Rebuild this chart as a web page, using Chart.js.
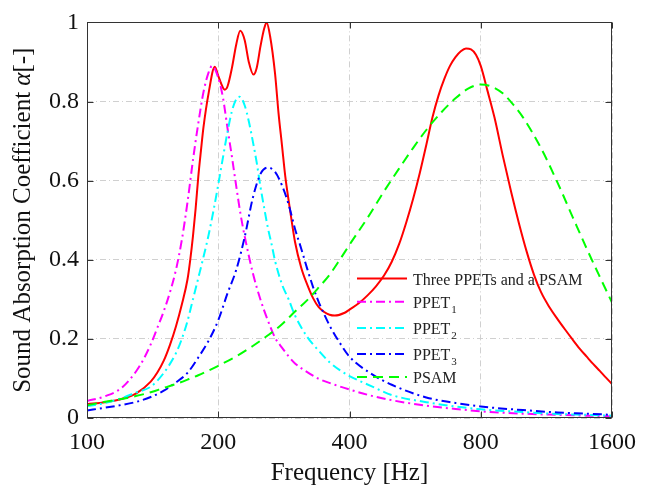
<!DOCTYPE html>
<html><head><meta charset="utf-8">
<script src="https://cdn.jsdelivr.net/npm/chart.js@4.4.1/dist/chart.umd.min.js"></script>
<style>html,body{margin:0;padding:0;background:#fff}canvas{display:block}</style>
</head><body>
<canvas id="c" width="646" height="492"></canvas>
<script>
// ---- data (frequency in Hz, sound absorption coefficient) ----
const xTicks = [100, 200, 400, 800, 1600];
const yTicks = [0, 0.2, 0.4, 0.6, 0.8, 1];
const seriesNames = ['Three PPETs and a PSAM', 'PPET1', 'PPET2', 'PPET3', 'PSAM'];

const redFreq  = [100,110,120,130,140,145,150,155,160,165,170,172.5,175,177.5,180,182.5,185,190,196.4,200,205,207,210,215,220,224.6,230,235,240.8,245,250,255,258.2,263,270,275,280,285,290,295,300,310,320,330,340,350,360,370,390,400,420,440,460,480,500,520,540,560,580,600,620,640,660,680,700,720,740,760,780,800,830,860,900,940,980,1020,1060,1100,1150,1200,1250,1300,1350,1400,1450,1500,1550,1600];
const redAlpha = [0.035,0.040,0.048,0.063,0.092,0.115,0.145,0.185,0.232,0.287,0.35,0.40,0.46,0.53,0.61,0.675,0.735,0.82,0.888,0.865,0.835,0.83,0.838,0.885,0.945,0.979,0.955,0.90,0.868,0.885,0.94,0.985,1.0,0.965,0.87,0.77,0.69,0.61,0.55,0.495,0.445,0.38,0.337,0.303,0.28,0.268,0.261,0.259,0.266,0.274,0.29,0.31,0.333,0.36,0.395,0.44,0.495,0.555,0.62,0.69,0.76,0.815,0.857,0.89,0.912,0.927,0.934,0.932,0.918,0.89,0.825,0.76,0.66,0.57,0.49,0.42,0.362,0.318,0.28,0.25,0.223,0.198,0.175,0.155,0.136,0.119,0.102,0.086];

const magFreq  = [100,110,120,130,135,140,145,150,155,160,165,170,175,180,185,190,193.6,200,205,210,215,220,225,230,240,250,260,270,280,290,300,320,340,370,400,450,500,600,700,800,1000,1200,1400,1600];
const magAlpha = [0.043,0.055,0.076,0.12,0.15,0.186,0.228,0.27,0.318,0.375,0.45,0.545,0.652,0.745,0.824,0.873,0.89,0.86,0.81,0.733,0.66,0.585,0.515,0.459,0.367,0.299,0.246,0.203,0.178,0.156,0.138,0.116,0.099,0.084,0.072,0.056,0.045,0.031,0.023,0.017,0.011,0.008,0.006,0.004];

const cyanFreq  = [100,110,120,130,140,150,160,165,170,175,180,185,190,195,200,205,210,215,220,224,230,235,240,245,250,255,260,265,270,280,290,300,320,340,360,380,400,450,500,600,700,800,1000,1200,1400,1600];
const cyanAlpha = [0.03,0.038,0.05,0.065,0.079,0.114,0.164,0.2,0.245,0.30,0.354,0.407,0.462,0.524,0.59,0.658,0.723,0.776,0.806,0.812,0.79,0.75,0.70,0.646,0.584,0.53,0.48,0.44,0.397,0.338,0.30,0.259,0.205,0.17,0.141,0.121,0.106,0.08,0.058,0.04,0.029,0.022,0.015,0.01,0.008,0.006];

const blueFreq  = [100,110,120,130,140,150,160,170,180,190,200,210,220,230,240,250,260,270,280,290,300,310,320,330,340,350,360,380,400,450,500,600,700,800,1000,1200,1400,1600];
const blueAlpha = [0.019,0.026,0.033,0.041,0.053,0.069,0.09,0.114,0.153,0.195,0.247,0.315,0.375,0.458,0.556,0.617,0.633,0.622,0.588,0.54,0.478,0.428,0.377,0.331,0.293,0.262,0.234,0.19,0.155,0.111,0.084,0.052,0.038,0.029,0.02,0.014,0.011,0.008];

const greenFreq  = [100,110,120,130,140,150,160,170,180,190,200,220,240,260,280,300,320,340,360,380,400,440,480,520,560,600,650,700,750,800,850,900,950,1000,1100,1200,1300,1400,1500,1600];
const greenAlpha = [0.032,0.041,0.048,0.056,0.065,0.076,0.086,0.097,0.108,0.12,0.132,0.156,0.182,0.209,0.237,0.269,0.298,0.33,0.362,0.40,0.438,0.506,0.573,0.631,0.683,0.728,0.773,0.808,0.833,0.843,0.837,0.82,0.792,0.76,0.682,0.595,0.508,0.428,0.357,0.292];

// ---- styling ----
const colors = ['#ff0000', '#ff00ff', '#00ffff', '#0000ff', '#00ff00'];
const dashes = [[], [9,4,2,4], [9,4,2,4], [9,4,2,4], [10,6]];
const serif = '"Liberation Serif", "Times New Roman", serif';

const mk = (f, a) => f.map((x, i) => ({x: x, y: a[i]}));
const allData = [mk(redFreq, redAlpha), mk(magFreq, magAlpha), mk(cyanFreq, cyanAlpha), mk(blueFreq, blueAlpha), mk(greenFreq, greenAlpha)];

const datasets = allData.map((d, i) => ({
  label: seriesNames[i],
  data: d,
  borderColor: colors[i],
  backgroundColor: colors[i],
  borderWidth: 2,
  borderDash: dashes[i],
  pointRadius: 0,
  fill: false,
  cubicInterpolationMode: 'monotone',
  order: 5 - i
}));

const framePlugin = {
  id: 'frame',
  afterDatasetsDraw(chart) {
    const ctx = chart.ctx, a = chart.chartArea;
    const xs = chart.scales.x, ys = chart.scales.y;
    ctx.save();
    ctx.setLineDash([]);
    ctx.strokeStyle = '#333';
    ctx.lineWidth = 1;
    const L = Math.round(a.left) + 0.5, R = Math.round(a.right) - 0.5, T = Math.round(a.top) + 0.5, B = Math.round(a.bottom) - 0.5;
    ctx.strokeRect(L, T, R - L, B - T);
    ctx.beginPath();
    const tl = 6;
    xTicks.forEach(v => {
      const p = Math.round(xs.getPixelForValue(v)) + 0.5;
      ctx.moveTo(p, B); ctx.lineTo(p, B - tl);
      ctx.moveTo(p, T); ctx.lineTo(p, T + tl);
    });
    yTicks.forEach(v => {
      const p = Math.round(ys.getPixelForValue(v)) + 0.5;
      ctx.moveTo(L, p); ctx.lineTo(L + tl, p);
      ctx.moveTo(R, p); ctx.lineTo(R - tl, p);
    });
    ctx.stroke();
    ctx.restore();
  }
};

const legendRows = [278.5, 301.7, 328, 354, 377];
const legendSubs = ['', '1', '2', '3', ''];
const legendMain = ['Three PPETs and a PSAM', 'PPET', 'PPET', 'PPET', 'PSAM'];

const legendPlugin = {
  id: 'customLegend',
  afterDatasetsDraw(chart) {
    const ctx = chart.ctx;
    ctx.save();
    const x0 = 357, x1 = 407, tx = 413;
    legendRows.forEach((y, i) => {
      ctx.strokeStyle = colors[i];
      ctx.lineWidth = 2;
      ctx.setLineDash(dashes[i]);
      ctx.beginPath();
      ctx.moveTo(x0, y); ctx.lineTo(x1, y);
      ctx.stroke();
      ctx.setLineDash([]);
      ctx.fillStyle = '#222';
      ctx.textBaseline = 'alphabetic';
      ctx.textAlign = 'left';
      ctx.font = '16px ' + serif;
      ctx.fillText(legendMain[i], tx, y + 6);
      if (legendSubs[i]) {
        const w = ctx.measureText(legendMain[i]).width;
        ctx.font = '11px ' + serif;
        ctx.fillText(legendSubs[i], tx + w + 1, y + 11);
      }
    });
    ctx.restore();
  }
};

const titlePlugin = {
  id: 'axisTitles',
  afterDraw(chart) {
    const ctx = chart.ctx, a = chart.chartArea;
    ctx.save();
    ctx.fillStyle = '#111';
    ctx.textBaseline = 'middle';
    ctx.textAlign = 'center';
    ctx.font = '25px ' + serif;
    ctx.fillText('Frequency [Hz]', (a.left + a.right) / 2, 473);
    const p1 = 'Sound Absorption Coefficient ', p2 = '\u03B1', p3 = '[-]';
    const fN = '25px ' + serif, fI = 'italic 25px ' + serif;
    ctx.font = fN; const w1 = ctx.measureText(p1).width, w3 = ctx.measureText(p3).width;
    ctx.font = fI; const w2 = ctx.measureText(p2).width;
    const tot = w1 + w2 + w3;
    ctx.translate(23, (a.top + a.bottom) / 2);
    ctx.rotate(-Math.PI / 2);
    ctx.textAlign = 'left';
    let x = -tot / 2;
    ctx.font = fN; ctx.fillText(p1, x, 0); x += w1;
    ctx.font = fI; ctx.fillText(p2, x, 0); x += w2;
    ctx.font = fN; ctx.fillText(p3, x, 0);
    ctx.restore();
  }
};

new Chart(document.getElementById('c').getContext('2d'), {
  type: 'line',
  data: { datasets: datasets },
  options: {
    responsive: false,
    animation: false,
    devicePixelRatio: 1,
    layout: { padding: { left: 0, right: 28, top: 14, bottom: 0 } },
    plugins: { legend: { display: false }, tooltip: { enabled: false } },
    scales: {
      x: {
        type: 'logarithmic', min: 100, max: 1600,
        afterBuildTicks: s => { s.ticks = xTicks.map(v => ({ value: v })); },
        afterFit: s => { s.height = 74; },
        ticks: { font: { family: serif, size: 24 }, color: '#111', padding: 10, maxRotation: 0, autoSkip: false, callback: v => String(v) },
        grid: { color: '#d0d0d0', lineWidth: 1, drawTicks: false },
        border: { display: false, dash: [6, 3, 1, 3] }
      },
      y: {
        type: 'linear', min: 0, max: 1,
        afterBuildTicks: s => { s.ticks = yTicks.map(v => ({ value: v })); },
        afterFit: s => { s.width = 87; },
        ticks: { font: { family: serif, size: 24 }, color: '#111', padding: 8, callback: v => String(Math.round(v * 10) / 10) },
        grid: { color: '#d0d0d0', lineWidth: 1, drawTicks: false },
        border: { display: false, dash: [6, 3, 1, 3] }
      }
    }
  },
  plugins: [framePlugin, legendPlugin, titlePlugin]
});
</script>
</body></html>
